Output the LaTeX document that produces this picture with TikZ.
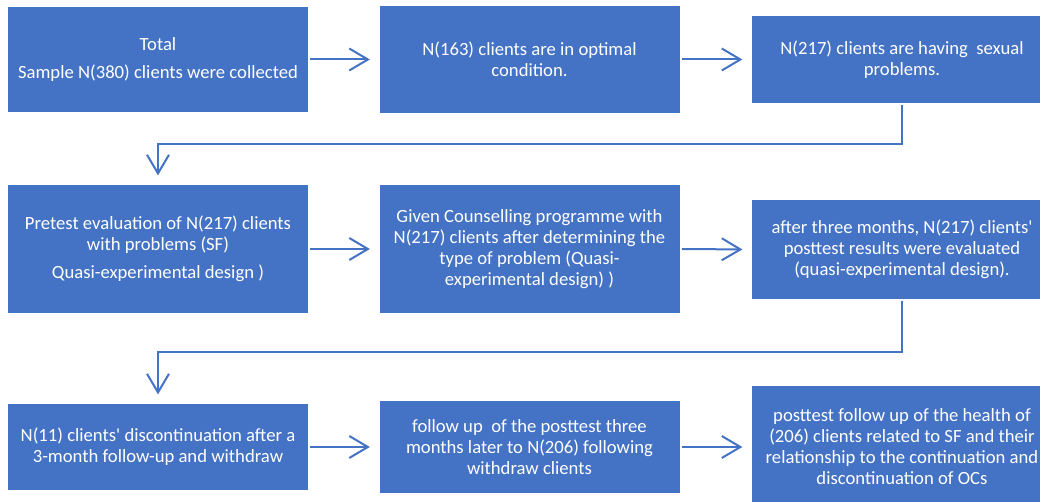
\documentclass[tikz,border=0pt]{standalone}
\usepackage{fontspec}
\setmainfont{Carlito}
\usetikzlibrary{arrows.meta}
\definecolor{boxblue}{HTML}{4472C4}
\begin{document}
\begin{tikzpicture}[x=0.75pt,y=-0.75pt,
      stage/.style={fill=boxblue, text=white, minimum width=225pt, align=center,
         inner sep=0pt, font=\fontsize{14}{15.75}\selectfont},
      flow/.style={draw=boxblue, line width=1.5pt, -{Straight Barb[length=14pt,width=16.5pt]},
         shorten <=1.5pt, shorten >=7pt}]
      \def\L{158}
      \def\M{529.5}
      \def\R{902}
      \useasboundingbox (0,0) rectangle (1040,502);
      % first row
      \node[stage, minimum height=105*0.75pt] (total) at (\L,59.5)
         {Total\\[5.25pt]Sample N(380) clients were collected};
      \node[stage, minimum height=107*0.75pt] (optimal) at (\M,59.5)
         {N(163) clients are in optimal\\condition.};
      \node[stage, minimum height=87*0.75pt] (sexual) at (\R,59.5)
         {N(217) clients are having \ sexual\\problems.};
      % second row
      \node[stage, minimum height=128*0.75pt] (pretest) at (\L,249)
         {Pretest evaluation of N(217) clients\\with problems (SF)\\[5.25pt]Quasi-experimental design )};
      \node[stage, minimum height=128*0.75pt] (counsel) at (\M,249)
         {Given Counselling programme with\\N(217) clients after determining the\\type of problem (Quasi-\\experimental design) )};
      \node[stage, minimum height=99*0.75pt] (posttest) at (\R,249.5)
         {after three months, N(217) clients\textquotesingle\\posttest results were evaluated\\(quasi-experimental design).};
      % third row
      \node[stage, minimum height=86*0.75pt] (withdraw) at (\L,447)
         {N(11) clients\textquotesingle{} discontinuation after a\\3-month follow-up and withdraw};
      \node[stage, minimum height=92*0.75pt] (followup) at (\M,447)
         {follow up \ of the posttest three\\months later to N(206) following\\withdraw clients};
      \node[stage, minimum height=122*0.75pt] (health) at (\R,447)
         {posttest follow up of the health of\\(206) clients related to SF and their\\relationship to the continuation and\\discontinuation of OCs};
      \coordinate (turn1) at (\M,144);
      \coordinate (turn2) at (\M,352);
      \foreach \a/\b in {total/optimal, optimal/sexual, pretest/counsel,
            counsel/posttest, withdraw/followup, followup/health} {
         \draw[flow] (\a.east) -- (\b.west);
      }
      \draw[flow] (sexual.south) |- (turn1) -| (pretest.north);
      \draw[flow] (posttest.south) |- (turn2) -| (withdraw.north);
   \end{tikzpicture}
\end{document}
